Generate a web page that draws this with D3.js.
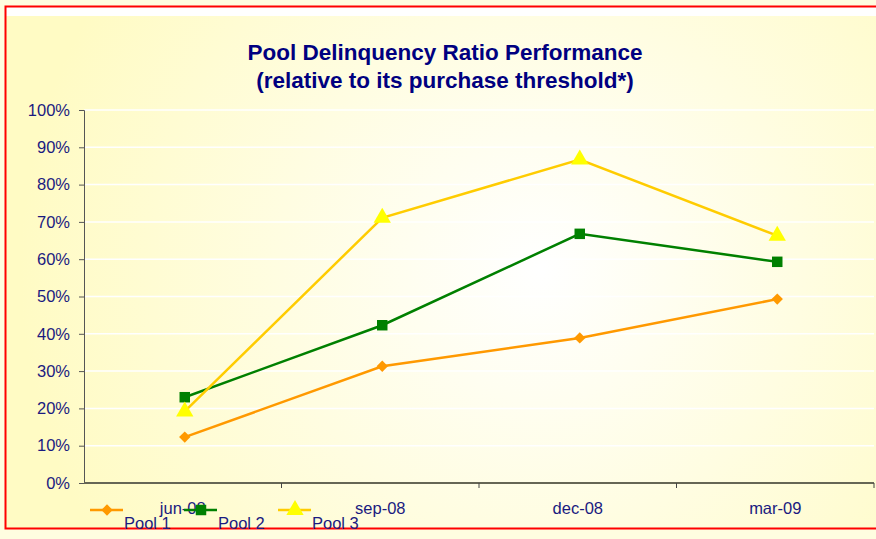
<!DOCTYPE html>
<html lang="en">
<head>
<meta charset="utf-8">
<title>Pool Delinquency Ratio Performance</title>
<script src="https://d3js.org/d3.v7.min.js"></script>
<style>
  body { margin: 0; background: #ffffff; }
  svg { display: block; font-family: Arial, "Liberation Sans", sans-serif; }
</style>
</head>
<body>
<div id="chart"></div>
<script>
// chart data
const quarters = ["jun-08", "sep-08", "dec-08", "mar-09"];
const pool1 = [12.3, 31.3, 38.9, 49.3];
const pool2 = [23.0, 42.3, 66.8, 59.3];
const pool3 = [19.2, 71.1, 86.7, 66.3];
const seriesNames = ["Pool 1", "Pool 2", "Pool 3"];
const yTicks = [0, 10, 20, 30, 40, 50, 60, 70, 80, 90, 100];

const W = 876, H = 539;
const margin = { top: 110, right: 2, bottom: 56, left: 84 };
const width = W - margin.left - margin.right;
const height = H - margin.top - margin.bottom;
const labelFont = 16.5;

const svg = d3.select("#chart").append("svg")
  .attr("width", W).attr("height", H);

// gradient background
const defs = svg.append("defs");
const grad = defs.append("radialGradient")
  .attr("id", "bg").attr("gradientUnits", "userSpaceOnUse")
  .attr("cx", 540).attr("cy", 270).attr("r", 520);
grad.append("stop").attr("offset", "0%").attr("stop-color", "#ffffff");
grad.append("stop").attr("offset", "100%").attr("stop-color", "#fffbc4");

svg.append("rect").attr("x", 0).attr("y", 0).attr("width", W).attr("height", H).attr("fill", "#fffde0");
svg.append("rect").attr("x", 6).attr("y", 7).attr("width", W - 6).attr("height", 521).attr("fill", "#ffffff");
svg.append("rect").attr("x", 6).attr("y", 16).attr("width", W - 6).attr("height", 512).attr("fill", "url(#bg)");

// red frame
svg.append("path")
  .attr("d", `M${W},6.5 H5.5 V528.5 H${W}`)
  .attr("fill", "none").attr("stroke", "#ff0000").attr("stroke-width", 2);

// title
const title = svg.append("text")
  .attr("text-anchor", "middle")
  .attr("fill", "#000080").attr("font-weight", "bold").attr("font-size", 22.5);
title.append("tspan").attr("x", 445).attr("y", 60).text("Pool Delinquency Ratio Performance");
title.append("tspan").attr("x", 445).attr("y", 88).text("(relative to its purchase threshold*)");

const g = svg.append("g").attr("transform", `translate(${margin.left},${margin.top})`);

const x = d3.scaleBand().domain(quarters).range([0, 790]);
const y = d3.scaleLinear().domain([0, 100]).range([height, 0]);

// gridlines
g.selectAll(".grid").data(yTicks.slice(1)).enter().append("line")
  .attr("x1", 0).attr("x2", width)
  .attr("y1", d => y(d)).attr("y2", d => y(d))
  .attr("stroke", "#ffffff").attr("stroke-width", 1.5);

// y axis
const yAxis = g.append("g")
  .call(d3.axisLeft(y).tickValues(yTicks).tickSize(5).tickPadding(9).tickFormat(d => d + "%"));
yAxis.select(".domain").attr("stroke", "#555555").attr("d", `M-5,0.5H0.5V${height}`);
yAxis.selectAll(".tick line").attr("stroke", "#555555");
yAxis.selectAll("text").attr("fill", "#1a1a80").attr("font-size", labelFont).attr("font-family", "Arial, 'Liberation Sans', sans-serif");

// x axis
const xAxis = g.append("g").attr("transform", `translate(0,${height})`)
  .call(d3.axisBottom(x).tickSize(0).tickPadding(19));
xAxis.select(".domain").attr("stroke", "#666655").attr("stroke-width", 2).attr("d", `M0,0H${width}`);
xAxis.selectAll("text").attr("fill", "#1a1a80").attr("font-size", labelFont).attr("font-family", "Arial, 'Liberation Sans', sans-serif");
// category boundary ticks
g.selectAll(".xtick").data(quarters).enter().append("line")
  .attr("x1", d => x(d) + x.bandwidth()).attr("x2", d => x(d) + x.bandwidth())
  .attr("y1", height).attr("y2", height + 5)
  .attr("stroke", "#444444");

// series
const series = [
  { name: seriesNames[0], values: pool1, line: "#ff9900", marker: "#ff9900", shape: d3.symbolSquare, size: 64, rot: 45 },
  { name: seriesNames[1], values: pool2, line: "#008000", marker: "#008000", shape: d3.symbolSquare, size: 110, rot: 0 },
  { name: seriesNames[2], values: pool3, line: "#ffcc00", marker: "#ffff00", shape: d3.symbolTriangle, size: 130, rot: 0 }
];

const cx = i => x(quarters[i]) + x.bandwidth() / 2 + 2;
const lineGen = d3.line().x((d, i) => cx(i)).y(d => y(d));

series.forEach(s => {
  g.append("path").datum(s.values)
    .attr("d", lineGen).attr("fill", "none")
    .attr("stroke", s.line).attr("stroke-width", 2.5);
  g.selectAll(null).data(s.values).enter().append("path")
    .attr("d", d3.symbol().type(s.shape).size(s.size))
    .attr("transform", (d, i) => `translate(${cx(i)},${y(d)}) rotate(${s.rot})`)
    .attr("fill", s.marker);
});

// legend (overlapping the axis labels, like the original)
const legend = svg.append("g");
series.forEach((s, i) => {
  const lx = 90 + i * 94;
  legend.append("line").attr("x1", lx).attr("x2", lx + 33).attr("y1", 510).attr("y2", 510)
    .attr("stroke", s.line).attr("stroke-width", 2.5);
  legend.append("path").attr("d", d3.symbol().type(s.shape).size(s.size))
    .attr("transform", `translate(${lx + 17},510) rotate(${s.rot})`).attr("fill", s.marker);
  legend.append("text").attr("x", lx + 34).attr("y", 529)
    .attr("fill", "#1a1a80").attr("font-size", labelFont).text(s.name);
});
</script>
</body>
</html>
